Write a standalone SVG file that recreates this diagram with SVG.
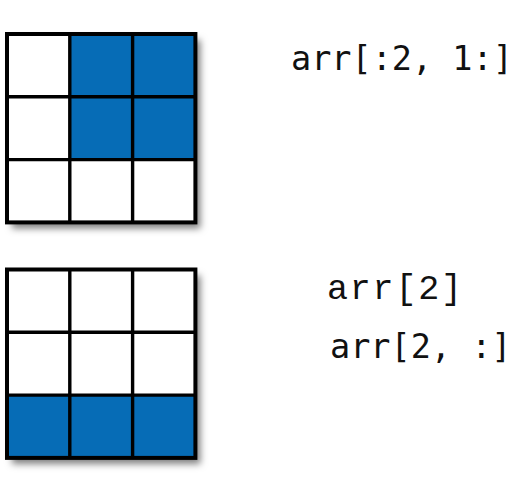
<svg xmlns="http://www.w3.org/2000/svg" width="519" height="486" viewBox="0 0 519 486">
  <defs>
    <filter id="shadow" x="-10%" y="-10%" width="130%" height="130%">
      <feDropShadow dx="5" dy="6" stdDeviation="3.5" flood-color="#000" flood-opacity="0.5"/>
    </filter>
  </defs>
  <style>
    .cell { fill: #ffffff; }
    .on { fill: #066cb6; }
    .inner { stroke: #000; stroke-width: 3.4; fill: none; }
    .outer { stroke: #000; stroke-width: 4; fill: none; }
    .code { font-family: "DejaVu Sans Mono", "Liberation Mono", monospace; font-size: 33.5px; fill: #111; }
    .code2 { font-family: "Liberation Mono", "DejaVu Sans Mono", monospace; font-size: 35px; fill: #111; letter-spacing: 1.8px; }
  </style>
  <rect width="519" height="486" fill="#ffffff"/>

  <g id="grid-slice-top">
    <rect x="7" y="34" width="188.4" height="188.4" fill="#fff" filter="url(#shadow)"/>
    <rect class="cell" x="7" y="34" width="62.8" height="62.8"/>
    <rect class="on" x="69.8" y="34" width="62.8" height="62.8"/>
    <rect class="on" x="132.6" y="34" width="62.8" height="62.8"/>
    <rect class="cell" x="7" y="96.8" width="62.8" height="62.8"/>
    <rect class="on" x="69.8" y="96.8" width="62.8" height="62.8"/>
    <rect class="on" x="132.6" y="96.8" width="62.8" height="62.8"/>
    <rect class="cell" x="7" y="159.6" width="62.8" height="62.8"/>
    <rect class="cell" x="69.8" y="159.6" width="62.8" height="62.8"/>
    <rect class="cell" x="132.6" y="159.6" width="62.8" height="62.8"/>
    <path class="inner" d="M69.8 34V222.4M132.6 34V222.4M7 96.8H195.4M7 159.6H195.4"/>
    <rect class="outer" x="7" y="34" width="188.4" height="188.4"/>
  </g>

  <g id="grid-row-bottom">
    <rect x="7" y="269.5" width="188.4" height="188.4" fill="#fff" filter="url(#shadow)"/>
    <rect class="cell" x="7" y="269.5" width="62.8" height="62.8"/>
    <rect class="cell" x="69.8" y="269.5" width="62.8" height="62.8"/>
    <rect class="cell" x="132.6" y="269.5" width="62.8" height="62.8"/>
    <rect class="cell" x="7" y="332.3" width="62.8" height="62.8"/>
    <rect class="cell" x="69.8" y="332.3" width="62.8" height="62.8"/>
    <rect class="cell" x="132.6" y="332.3" width="62.8" height="62.8"/>
    <rect class="on" x="7" y="395.1" width="62.8" height="62.8"/>
    <rect class="on" x="69.8" y="395.1" width="62.8" height="62.8"/>
    <rect class="on" x="132.6" y="395.1" width="62.8" height="62.8"/>
    <path class="inner" d="M69.8 269.5V457.9M132.6 269.5V457.9M7 332.3H195.4M7 395.1H195.4"/>
    <rect class="outer" x="7" y="269.5" width="188.4" height="188.4"/>
  </g>

  <g id="labels">
    <text class="code" x="291" y="70" xml:space="preserve">arr[:2, 1:]</text>
    <text class="code2" x="327" y="299">arr[2]</text>
    <text class="code" x="330" y="358" xml:space="preserve">arr[2, :]</text>
  </g>
</svg>
